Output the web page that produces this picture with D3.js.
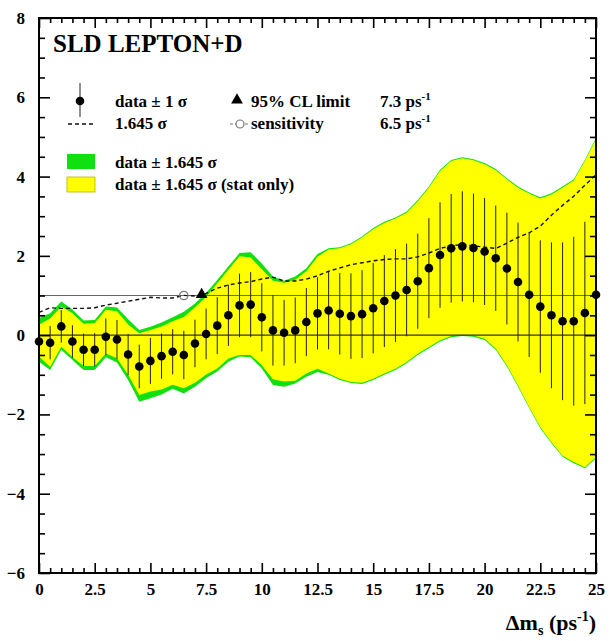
<!DOCTYPE html>
<html>
<head>
<meta charset="utf-8">
<script src="https://cdn.jsdelivr.net/npm/d3@7"></script>
<style>
  html, body { margin: 0; padding: 0; background: #fff; }
  svg { display: block; }
  svg text { font-family: "Liberation Serif", "Times New Roman", serif; font-weight: bold; }
</style>
</head>
<body>
<svg id="chart" width="610" height="641"></svg>
<script>
// Oscillation frequency grid (ps^-1)
const dms = [0, 0.5, 1, 1.5, 2, 2.5, 3, 3.5, 4, 4.5, 5, 5.5, 6, 6.5, 7, 7.5, 8, 8.5, 9, 9.5,
  10, 10.5, 11, 11.5, 12, 12.5, 13, 13.5, 14, 14.5, 15, 15.5, 16, 16.5, 17, 17.5, 18, 18.5, 19, 19.5,
  20, 20.5, 21, 21.5, 22, 22.5, 23, 23.5, 24, 24.5, 25];

// Fitted amplitude at each frequency
const amplitude = [-0.16, -0.19, 0.22, -0.16, -0.37, -0.37, -0.04, -0.11, -0.49, -0.79,
  -0.65, -0.53, -0.42, -0.50, -0.21, 0.03, 0.24, 0.50, 0.75, 0.77,
  0.45, 0.12, 0.06, 0.12, 0.33, 0.55, 0.62, 0.54, 0.48, 0.53,
  0.68, 0.86, 1.00, 1.14, 1.36, 1.69, 2.02, 2.19, 2.24, 2.20,
  2.11, 1.94, 1.68, 1.34, 1.02, 0.72, 0.50, 0.35, 0.35, 0.56, 1.02];

// Total 1 sigma uncertainty on the amplitude
const sigma = [0.35, 0.42, 0.41, 0.41, 0.41, 0.42, 0.46, 0.49, 0.52, 0.55,
  0.58, 0.57, 0.57, 0.61, 0.60, 0.64, 0.72, 0.77, 0.80, 0.82,
  0.86, 0.89, 0.83, 0.83, 0.86, 0.91, 0.98, 1.03, 1.08, 1.11,
  1.14, 1.16, 1.17, 1.17, 1.20, 1.26, 1.33, 1.37, 1.39, 1.37,
  1.35, 1.33, 1.41, 1.50, 1.57, 1.67, 1.84, 1.99, 2.13, 2.30, 2.46];

// data ± 1.645 sigma band (total)
const bandTotalHi = [0.43, 0.55, 0.85, 0.65, 0.37, 0.38, 0.72, 0.70, 0.40, 0.13,
  0.21, 0.32, 0.45, 0.59, 0.80, 1.06, 1.39, 1.73, 2.07, 2.09,
  1.81, 1.48, 1.37, 1.48, 1.69, 2.05, 2.19, 2.22, 2.32, 2.49,
  2.70, 2.86, 2.97, 3.12, 3.41, 3.75, 4.17, 4.42, 4.49, 4.44,
  4.34, 4.19, 3.96, 3.75, 3.60, 3.48, 3.58, 3.75, 3.93, 4.42, 4.97];
const bandTotalLo = [-0.67, -0.88, -0.37, -0.63, -0.88, -0.88, -0.56, -0.69, -1.13, -1.68,
  -1.59, -1.50, -1.35, -1.47, -1.30, -1.09, -0.92, -0.67, -0.54, -0.56,
  -0.84, -1.26, -1.30, -1.22, -1.05, -0.93, -1.00, -1.13, -1.21, -1.23,
  -1.13, -1.00, -0.88, -0.71, -0.50, -0.33, -0.16, -0.05, -0.02, -0.04,
  -0.12, -0.37, -0.79, -1.30, -1.84, -2.35, -2.73, -3.07, -3.23, -3.36, -3.11];

// data ± 1.645 sigma band (statistical only)
const bandStatHi = [0.26, 0.42, 0.72, 0.55, 0.29, 0.30, 0.64, 0.60, 0.27, 0.05,
  0.13, 0.22, 0.35, 0.46, 0.70, 0.96, 1.31, 1.65, 1.99, 1.96,
  1.66, 1.37, 1.32, 1.40, 1.61, 1.98, 2.16, 2.19, 2.29, 2.46,
  2.67, 2.83, 2.94, 3.09, 3.38, 3.72, 4.14, 4.39, 4.46, 4.41,
  4.31, 4.16, 3.93, 3.72, 3.57, 3.45, 3.55, 3.72, 3.90, 4.39, 4.94];
const bandStatLo = [-0.54, -0.80, -0.29, -0.55, -0.78, -0.78, -0.46, -0.58, -1.00, -1.51,
  -1.42, -1.37, -1.25, -1.34, -1.20, -0.99, -0.84, -0.59, -0.50, -0.50,
  -0.76, -1.11, -1.17, -1.15, -0.97, -0.85, -0.97, -1.10, -1.18, -1.20,
  -1.10, -0.97, -0.85, -0.68, -0.47, -0.30, -0.13, -0.02, 0.01, -0.01,
  -0.09, -0.34, -0.76, -1.27, -1.81, -2.32, -2.70, -3.04, -3.20, -3.33, -3.08];

// Limit and sensitivity
const clLimit = 7.3;
const sensitivity = 6.5;

// Axis ticks
const xMajorTicks = [0, 2.5, 5, 7.5, 10, 12.5, 15, 17.5, 20, 22.5, 25];
const yMajorTicks = [-6, -4, -2, 0, 2, 4, 6, 8];

const colGreen = "#10e010";
const colYellow = "#ffff00";
const serif = '"Liberation Serif", "Times New Roman", serif';

const svg = d3.select("#chart");
const x = d3.scaleLinear().domain([0, 25]).range([39, 596]);
const y = d3.scaleLinear().domain([-6, 8]).range([573, 18]);

const xMinor = d3.range(0, 25.001, 0.5).filter(v => !xMajorTicks.includes(v));
const yMinor = d3.range(-6, 8.001, 0.5).filter(v => !yMajorTicks.includes(v));

const rows = dms.map((d, i) => ({
  x: d, a: amplitude[i], s: sigma[i],
  tHi: bandTotalHi[i], tLo: bandTotalLo[i], sHi: bandStatHi[i], sLo: bandStatLo[i]
}));

const plot = svg.append("g");

// Bands
plot.append("path").datum(rows)
  .attr("fill", colGreen)
  .attr("d", d3.area().x(d => x(d.x)).y0(d => y(d.tLo)).y1(d => y(d.tHi)));
plot.append("path").datum(rows)
  .attr("fill", colYellow)
  .attr("d", d3.area().x(d => x(d.x)).y0(d => y(d.sLo)).y1(d => y(d.sHi)));

// Reference lines at amplitude 0 and 1
plot.append("line").attr("x1", x(0)).attr("x2", x(25)).attr("y1", y(0)).attr("y2", y(0))
  .attr("stroke", "#333").attr("stroke-width", 1.1);
plot.append("line").attr("x1", x(0)).attr("x2", x(25)).attr("y1", y(1)).attr("y2", y(1))
  .attr("stroke", "#666").attr("stroke-width", 1.1);

// Error bars (± 1 sigma)
plot.append("g").selectAll("line").data(rows).join("line")
  .attr("x1", d => x(d.x)).attr("x2", d => x(d.x))
  .attr("y1", d => y(d.a - d.s)).attr("y2", d => y(d.a + d.s))
  .attr("stroke", "#222").attr("stroke-width", 1);

// 1.645 sigma curve
plot.append("path").datum(rows)
  .attr("fill", "none").attr("stroke", "#111").attr("stroke-width", 1.4)
  .attr("stroke-dasharray", "4,3")
  .attr("d", d3.line().x(d => x(d.x)).y(d => y(1.645 * d.s)));

// Data points
plot.append("g").selectAll("circle").data(rows).join("circle")
  .attr("cx", d => x(d.x)).attr("cy", d => y(d.a)).attr("r", 4.3)
  .attr("fill", "#000");

// Sensitivity marker and 95% CL limit marker
plot.append("circle").attr("cx", x(sensitivity)).attr("cy", y(1)).attr("r", 4.2)
  .attr("fill", "none").attr("stroke", "#777").attr("stroke-width", 1.2);
const tri = d3.symbol().type(d3.symbolTriangle).size(60);
plot.append("path").attr("d", tri())
  .attr("transform", `translate(${x(clLimit)},${y(1) - 1})`).attr("fill", "#000");

// Axes: inward ticks on all four sides
const fmt = d3.format("~g");
function styleAxis(g) {
  g.attr("font-family", null).attr("font-size", null);
  g.select(".domain").remove();
  g.selectAll(".tick line").attr("stroke", "#000").attr("stroke-width", 1.6);
  g.selectAll("text")
    .style("font-family", serif).style("font-weight", "bold").style("font-size", "17px")
    .attr("fill", "#000");
}
svg.append("g").attr("transform", `translate(0,${y(-6)})`)
  .call(d3.axisBottom(x).tickValues(xMajorTicks).tickSize(-10).tickPadding(10).tickFormat(fmt))
  .call(styleAxis);
svg.append("g").attr("transform", `translate(0,${y(-6)})`)
  .call(d3.axisBottom(x).tickValues(xMinor).tickSize(-5).tickFormat(""))
  .call(styleAxis);
svg.append("g").attr("transform", `translate(0,${y(8)})`)
  .call(d3.axisTop(x).tickValues(xMajorTicks).tickSize(-10).tickFormat(""))
  .call(styleAxis);
svg.append("g").attr("transform", `translate(0,${y(8)})`)
  .call(d3.axisTop(x).tickValues(xMinor).tickSize(-5).tickFormat(""))
  .call(styleAxis);
svg.append("g").attr("transform", `translate(${x(0)},0)`)
  .call(d3.axisLeft(y).tickValues(yMajorTicks).tickSize(-11).tickPadding(14).tickFormat(fmt))
  .call(styleAxis);
svg.append("g").attr("transform", `translate(${x(0)},0)`)
  .call(d3.axisLeft(y).tickValues(yMinor).tickSize(-6).tickFormat(""))
  .call(styleAxis);
svg.append("g").attr("transform", `translate(${x(25)},0)`)
  .call(d3.axisRight(y).tickValues(yMajorTicks).tickSize(-11).tickFormat(""))
  .call(styleAxis);
svg.append("g").attr("transform", `translate(${x(25)},0)`)
  .call(d3.axisRight(y).tickValues(yMinor).tickSize(-6).tickFormat(""))
  .call(styleAxis);

// Frame
svg.append("rect").attr("x", x(0)).attr("y", y(8))
  .attr("width", x(25) - x(0)).attr("height", y(-6) - y(8))
  .attr("fill", "none").attr("stroke", "#000").attr("stroke-width", 2);

// Title
svg.append("text").attr("x", 53).attr("y", 52).style("font-size", "25px").text("SLD LEPTON+D");

// Legend
const lg = svg.append("g").style("font-size", "17px");
lg.append("line").attr("x1", 80).attr("x2", 80).attr("y1", 83).attr("y2", 117)
  .attr("stroke", "#222").attr("stroke-width", 1);
lg.append("circle").attr("cx", 80).attr("cy", 101).attr("r", 4.3).attr("fill", "#000");
lg.append("text").attr("x", 115).attr("y", 107).text("data ± 1 σ");
lg.append("line").attr("x1", 68).attr("x2", 96).attr("y1", 124).attr("y2", 124)
  .attr("stroke", "#111").attr("stroke-width", 1.4).attr("stroke-dasharray", "4,3");
lg.append("text").attr("x", 115).attr("y", 129).text("1.645 σ");

lg.append("path").attr("d", tri()).attr("transform", "translate(237,100)").attr("fill", "#000");
lg.append("text").attr("x", 251).attr("y", 107).text("95% CL limit");
const t1 = lg.append("text").attr("x", 380).attr("y", 107);
t1.append("tspan").text("7.3 ps");
t1.append("tspan").attr("dy", -7).style("font-size", "11px").text("-1");

lg.append("line").attr("x1", 230).attr("x2", 249).attr("y1", 124).attr("y2", 124)
  .attr("stroke", "#777").attr("stroke-width", 1).attr("stroke-dasharray", "3,2");
lg.append("circle").attr("cx", 240).attr("cy", 124).attr("r", 4)
  .attr("fill", "#fff").attr("stroke", "#777").attr("stroke-width", 1.2);
lg.append("text").attr("x", 251).attr("y", 129).text("sensitivity");
const t2 = lg.append("text").attr("x", 380).attr("y", 129);
t2.append("tspan").text("6.5 ps");
t2.append("tspan").attr("dy", -7).style("font-size", "11px").text("-1");

lg.append("rect").attr("x", 67).attr("y", 154).attr("width", 28).attr("height", 15)
  .attr("fill", colGreen);
lg.append("text").attr("x", 115).attr("y", 168).text("data ± 1.645 σ");
lg.append("rect").attr("x", 67).attr("y", 177).attr("width", 28).attr("height", 15)
  .attr("fill", colYellow).attr("stroke", "#b5b500").attr("stroke-width", 0.8);
lg.append("text").attr("x", 115).attr("y", 190).text("data ± 1.645 σ (stat only)");

// X axis title
const xt = svg.append("text").attr("x", 596).attr("y", 630).attr("text-anchor", "end")
  .style("font-size", "22px");
xt.append("tspan").text("Δm");
xt.append("tspan").attr("dy", 5).style("font-size", "14px").text("s");
xt.append("tspan").attr("dy", -5).text(" (ps");
xt.append("tspan").attr("dy", -9).style("font-size", "14px").text("-1");
xt.append("tspan").attr("dy", 9).text(")");
</script>
</body>
</html>
